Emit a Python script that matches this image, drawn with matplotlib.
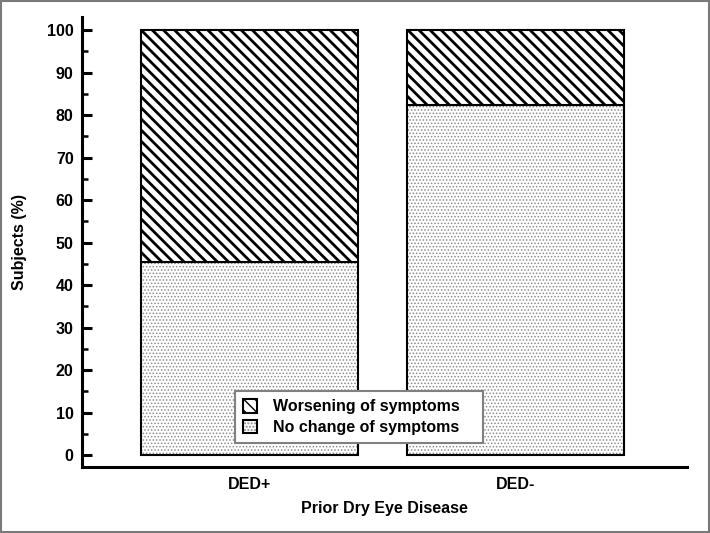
import matplotlib
matplotlib.use("Agg")
import matplotlib.pyplot as plt
from matplotlib.patches import Rectangle
from matplotlib.legend_handler import HandlerTuple
from matplotlib.ticker import MultipleLocator

categories = ["DED+", "DED-"]
no_change = [45.3, 82.3]
worsening = [54.7, 17.7]
series_labels = ["Worsening of symptoms", "No change of symptoms"]
yticks = [0, 10, 20, 30, 40, 50, 60, 70, 80, 90, 100]

plt.rcParams['font.family'] = ['Liberation Sans', 'DejaVu Sans']
plt.rcParams['font.weight'] = 'bold'
FS = 11.5

fig = plt.figure(figsize=(7.1, 5.33), dpi=100)
ax = fig.add_axes([82/710, 1-467/533, (687-82)/710, (467-17)/533])

x = list(range(len(categories)))
w = 0.814

def set_hlw(bars, lw):
    for p in bars:
        if hasattr(p, 'set_hatch_linewidth'):
            p.set_hatch_linewidth(lw)

with plt.rc_context({'hatch.linewidth': 0.7}):
    b1h = ax.bar(x, no_change, w, color='white', edgecolor='#8a8a8a', hatch='.....', linewidth=0)
set_hlw(b1h, 0.7)
b1e = ax.bar(x, no_change, w, fill=False, edgecolor='black', linewidth=1.5)

with plt.rc_context({'hatch.linewidth': 2.0}):
    b2h = ax.bar(x, worsening, w, bottom=no_change, color='white', edgecolor='black', hatch='\\\\\\', linewidth=0)
set_hlw(b2h, 2.0)
b2e = ax.bar(x, worsening, w, bottom=no_change, fill=False, edgecolor='black', linewidth=1.5)

ax.set_xlim(-0.628, 1.642)
ax.set_ylim(-2.82, 103.06)
ax.set_xticks(x)
ax.set_xticklabels(categories, fontsize=FS, fontweight='bold')
ax.set_yticks(yticks)
ax.set_yticklabels([str(t) for t in yticks], fontsize=FS, fontweight='bold')
ax.yaxis.set_minor_locator(MultipleLocator(5))
ax.tick_params(axis='y', which='major', direction='in', length=7.5, width=2.2, pad=6)
ax.tick_params(axis='y', which='minor', direction='in', length=4, width=1.8)
ax.tick_params(axis='x', which='both', length=0, pad=7)

for s in ['top', 'right']:
    ax.spines[s].set_visible(False)
for s in ['left', 'bottom']:
    ax.spines[s].set_linewidth(2.2)

ax.set_ylabel("Subjects (%)", fontsize=FS, fontweight='bold')
ax.yaxis.set_label_coords(-0.091, 0.5)
ax.set_xlabel("Prior Dry Eye Disease", fontsize=FS, fontweight='bold', va='top')
ax.xaxis.set_label_coords(0.5, -0.076)

leg = ax.legend([(b2h[0], b2e[0]), (b1h[0], b1e[0])], series_labels,
                handler_map={tuple: HandlerTuple(ndivide=1, pad=0)},
                loc='lower left', bbox_to_anchor=(0.253, 0.053, 0.41, 0.11),
                mode='expand',
                fancybox=False, framealpha=1, edgecolor='#808080',
                prop={'weight': 'bold', 'size': FS},
                handlelength=0.9, handleheight=0.9, handletextpad=1.0,
                labelspacing=0.35, borderpad=0.5, borderaxespad=0)
leg.get_frame().set_linewidth(1.5)

fig.patches.append(Rectangle((0.001, 0.001), 0.997, 0.997, transform=fig.transFigure,
                             fill=False, edgecolor='#7a7a7a', linewidth=1.5))

fig.savefig("out.png", dpi=100)
